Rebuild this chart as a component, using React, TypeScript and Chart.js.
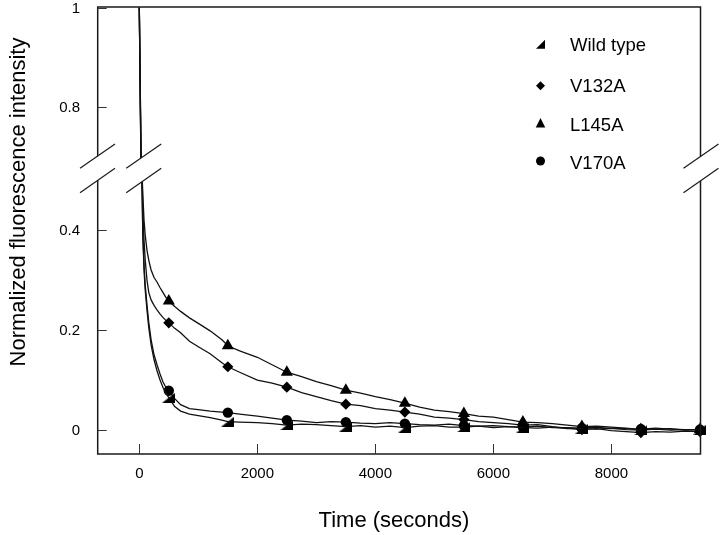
import React, { useEffect, useRef } from "react";
import { Chart, registerables } from "chart.js";

Chart.register(...registerables);

// ---- data ----
const TIME = [0, 15, 30, 45, 60, 80, 100, 130, 160, 200, 250, 300, 350, 400, 450, 500, 600, 700, 850, 1000, 1200, 1400, 1500, 1700, 2000, 2250, 2500, 2750, 3000, 3250, 3500, 3750, 4000, 4250, 4500, 4750, 5000, 5250, 5500, 5750, 6000, 6250, 6500, 6750, 7000, 7250, 7500, 7750, 8000, 8250, 8500, 8750, 9000, 9250, 9500];

const WILD_TYPE = [1, 0.83, 0.66, 0.5, 0.39, 0.32, 0.28, 0.24, 0.205, 0.17, 0.14, 0.118, 0.1, 0.085, 0.073, 0.064, 0.046, 0.037, 0.031, 0.028, 0.024, 0.019, 0.016, 0.015, 0.014, 0.012, 0.009, 0.011, 0.01, 0.008, 0.006, 0.008, 0.005, 0.007, 0.004, 0.007, 0.008, 0.005, 0.005, 0.007, 0.004, 0.006, 0.004, 0.003, 0.005, 0.002, 0.002, 0.001, 0.003, 0.0, -0.001, 0.001, -0.001, 0.0, 0.0];

const V132A = [1, 0.85, 0.69, 0.54, 0.44, 0.38, 0.34, 0.3, 0.275, 0.26, 0.249, 0.24, 0.232, 0.225, 0.219, 0.214, 0.203, 0.194, 0.177, 0.166, 0.152, 0.134, 0.126, 0.115, 0.099, 0.093, 0.085, 0.074, 0.066, 0.058, 0.051, 0.048, 0.042, 0.039, 0.035, 0.031, 0.025, 0.023, 0.02, 0.016, 0.014, 0.012, 0.009, 0.01, 0.006, 0.003, 0.0, 0.002, -0.002, -0.004, -0.006, -0.004, -0.005, -0.003, -0.004];

const L145A = [1, 0.85, 0.7, 0.56, 0.47, 0.42, 0.39, 0.36, 0.34, 0.32, 0.305, 0.296, 0.285, 0.275, 0.265, 0.258, 0.247, 0.237, 0.224, 0.213, 0.198, 0.18, 0.168, 0.158, 0.145, 0.13, 0.115, 0.106, 0.096, 0.088, 0.079, 0.073, 0.066, 0.06, 0.053, 0.045, 0.039, 0.036, 0.032, 0.027, 0.025, 0.02, 0.015, 0.014, 0.012, 0.009, 0.006, 0.007, 0.005, 0.003, 0.0, 0.002, 0.002, -0.001, 0.0];

const V170A = [1, 0.83, 0.66, 0.5, 0.39, 0.33, 0.29, 0.25, 0.215, 0.18, 0.15, 0.13, 0.112, 0.096, 0.085, 0.078, 0.062, 0.05, 0.042, 0.04, 0.037, 0.035, 0.034, 0.031, 0.027, 0.023, 0.019, 0.017, 0.014, 0.016, 0.015, 0.013, 0.012, 0.014, 0.012, 0.01, 0.009, 0.011, 0.008, 0.007, 0.008, 0.006, 0.005, 0.007, 0.004, 0.004, 0.003, 0.005, 0.002, 0.002, 0.001, 0.003, 0.001, 0.0, 0.0];

const MARKER_TIMES = [500, 1500, 2500, 3500, 4500, 5500, 6500, 7500, 8500, 9500];
const SERIES_NAMES = ["Wild type", "V132A", "L145A", "V170A"];
const X_TICKS = [0, 2000, 4000, 6000, 8000];
const Y_TICKS = [0, 0.2, 0.4, 0.8, 1];
const Y_TICK_LABELS = ["0", "0.2", "0.4", "0.8", "1"];
const X_TITLE = "Time (seconds)";
const Y_TITLE = "Normalized fluorescence intensity";

// ---- axis break (values between BREAK_LOW and BREAK_HIGH are cut out) ----
const BREAK_LOW = 0.52;
const BREAK_HIGH = 0.6737;
const toAxis = (v: number) =>
  v <= BREAK_LOW ? v : v >= BREAK_HIGH ? v - (BREAK_HIGH - BREAK_LOW) : BREAK_LOW;

const FONT = '"Liberation Sans", Arial, Helvetica, sans-serif';

function makeWedge(w: number, h: number) {
  const c = document.createElement("canvas");
  c.width = w;
  c.height = h;
  const g = c.getContext("2d")!;
  g.fillStyle = "#000";
  g.beginPath();
  g.moveTo(w, 0);
  g.lineTo(w, h);
  g.lineTo(0, h);
  g.closePath();
  g.fill();
  return c;
}

function drawMarker(ctx: CanvasRenderingContext2D, kind: number, x: number, y: number, s: number) {
  ctx.save();
  ctx.fillStyle = "#000";
  ctx.beginPath();
  if (kind === 0) {
    ctx.moveTo(x + s / 2, y - s / 2);
    ctx.lineTo(x + s / 2, y + s / 2);
    ctx.lineTo(x - s / 2, y + s / 2);
    ctx.closePath();
  } else if (kind === 1) {
    ctx.moveTo(x, y - s / 2);
    ctx.lineTo(x + s / 2, y);
    ctx.lineTo(x, y + s / 2);
    ctx.lineTo(x - s / 2, y);
    ctx.closePath();
  } else if (kind === 2) {
    ctx.moveTo(x, y - s / 2);
    ctx.lineTo(x + s / 2, y + s / 2);
    ctx.lineTo(x - s / 2, y + s / 2);
    ctx.closePath();
  } else {
    ctx.arc(x, y, s / 2, 0, Math.PI * 2);
  }
  ctx.fill();
  ctx.restore();
}

const frameAndLabels = {
  id: "frameAndLabels",
  afterDatasetsDraw(chart: any) {
    const ctx: CanvasRenderingContext2D = chart.ctx;
    const { left, right, top, bottom } = chart.chartArea;
    const xs = chart.scales.x;
    const ys = chart.scales.y;
    ctx.save();
    ctx.strokeStyle = "#1a1a1a";
    ctx.lineWidth = 1.5;
    ctx.strokeRect(left, top, right - left, bottom - top);

    ctx.lineWidth = 1;
    ctx.strokeStyle = "#333";
    // x ticks (inside, from bottom)
    X_TICKS.forEach((t) => {
      const px = Math.round(xs.getPixelForValue(t)) + 0.5;
      ctx.beginPath();
      ctx.moveTo(px, bottom);
      ctx.lineTo(px, bottom - 10);
      ctx.stroke();
    });
    // y ticks (inside, from left)
    Y_TICKS.forEach((v) => {
      const py = Math.round(ys.getPixelForValue(toAxis(v))) + 0.5;
      ctx.beginPath();
      ctx.moveTo(left, py);
      ctx.lineTo(left + 9, py);
      ctx.stroke();
    });

    // tick labels
    ctx.fillStyle = "#000";
    ctx.font = `15px ${FONT}`;
    ctx.textAlign = "center";
    ctx.textBaseline = "middle";
    X_TICKS.forEach((t) => {
      ctx.fillText(String(t), xs.getPixelForValue(t), 474);
    });
    ctx.textAlign = "right";
    Y_TICKS.forEach((v, i) => {
      ctx.fillText(Y_TICK_LABELS[i], 80, ys.getPixelForValue(toAxis(v)) + 1);
    });

    // axis titles
    ctx.font = `22px ${FONT}`;
    ctx.textAlign = "center";
    ctx.fillText(X_TITLE, 394, 521);
    ctx.save();
    ctx.translate(18.5, 202);
    ctx.rotate(-Math.PI / 2);
    ctx.fillText(Y_TITLE, 0, 0);
    ctx.restore();

    // break marks
    const breakY = 168.3;
    const hx = 17.5;
    const hy = 12.2;
    const gap = 12.2;
    const centers = [left - 0.2, xs.getPixelForValue(75), right + 0.5];
    centers.forEach((cx) => {
      ctx.fillStyle = "#fff";
      ctx.beginPath();
      ctx.moveTo(cx - hx + 3, breakY - gap + hy - 3 * (hy / hx));
      ctx.lineTo(cx + hx - 3, breakY - gap - hy + 3 * (hy / hx));
      ctx.lineTo(cx + hx - 3, breakY + gap - hy + 3 * (hy / hx));
      ctx.lineTo(cx - hx + 3, breakY + gap + hy - 3 * (hy / hx));
      ctx.closePath();
      ctx.fill();
      ctx.strokeStyle = "#1a1a1a";
      ctx.lineWidth = 1.2;
      [-gap, gap].forEach((off) => {
        ctx.beginPath();
        ctx.moveTo(cx - hx, breakY + off + hy);
        ctx.lineTo(cx + hx, breakY + off - hy);
        ctx.stroke();
      });
    });

    // legend
    const rows = [
      { y: 45, my: 44.2 },
      { y: 86, my: 85.8 },
      { y: 124.5, my: 122.8 },
      { y: 162.5, my: 161 },
    ];
    ctx.font = `18.5px ${FONT}`;
    ctx.textAlign = "left";
    ctx.textBaseline = "middle";
    ctx.fillStyle = "#000";
    SERIES_NAMES.forEach((name, i) => {
      drawMarker(ctx, i, 540.5, rows[i].my, i === 2 ? 9.5 : 9);
      ctx.fillText(name, 570, rows[i].y + 1);
    });
    ctx.restore();
  },
};

export default function App() {
  const ref = useRef<HTMLCanvasElement>(null);
  useEffect(() => {
    if (!ref.current) return;
    const wedge = makeWedge(13, 10);
    const series = [WILD_TYPE, V132A, L145A, V170A];
    const styles: any[] = [wedge, "rectRot", "triangle", "circle"];
    const radii = [6, 5.6, 7, 5.2];
    const isMarker = (i: number) => MARKER_TIMES.includes(TIME[i]);
    const chart = new Chart(ref.current, {
      type: "line",
      data: {
        datasets: series.map((vals, s) => ({
          label: SERIES_NAMES[s],
          data: TIME.map((t, i) => ({ x: t, y: toAxis(vals[i]) })),
          borderColor: "#111",
          borderWidth: 1.3,
          backgroundColor: "#000",
          pointBackgroundColor: "#000",
          pointBorderWidth: 0,
          pointStyle: styles[s],
          pointRadius: (c: any) => (isMarker(c.dataIndex) ? radii[s] : 0),
          pointHoverRadius: (c: any) => (isMarker(c.dataIndex) ? radii[s] : 0),
          tension: 0,
          clip: false as any,
        })),
      },
      options: {
        responsive: false,
        animation: false,
        events: [],
        layout: { padding: { left: 97.7, right: 19.5, top: 7, bottom: 81 } },
        plugins: { legend: { display: false }, tooltip: { enabled: false } },
        scales: {
          x: { type: "linear", display: false, min: -705, max: 9510 },
          y: { type: "linear", display: false, min: -0.049, max: 0.8475 },
        },
      },
      plugins: [frameAndLabels],
    });
    return () => chart.destroy();
  }, []);
  return (
    <div style={{ position: "fixed", left: 0, top: 0, width: 720, height: 535, background: "#fff" }}>
      <canvas ref={ref} width={720} height={535} />
    </div>
  );
}
